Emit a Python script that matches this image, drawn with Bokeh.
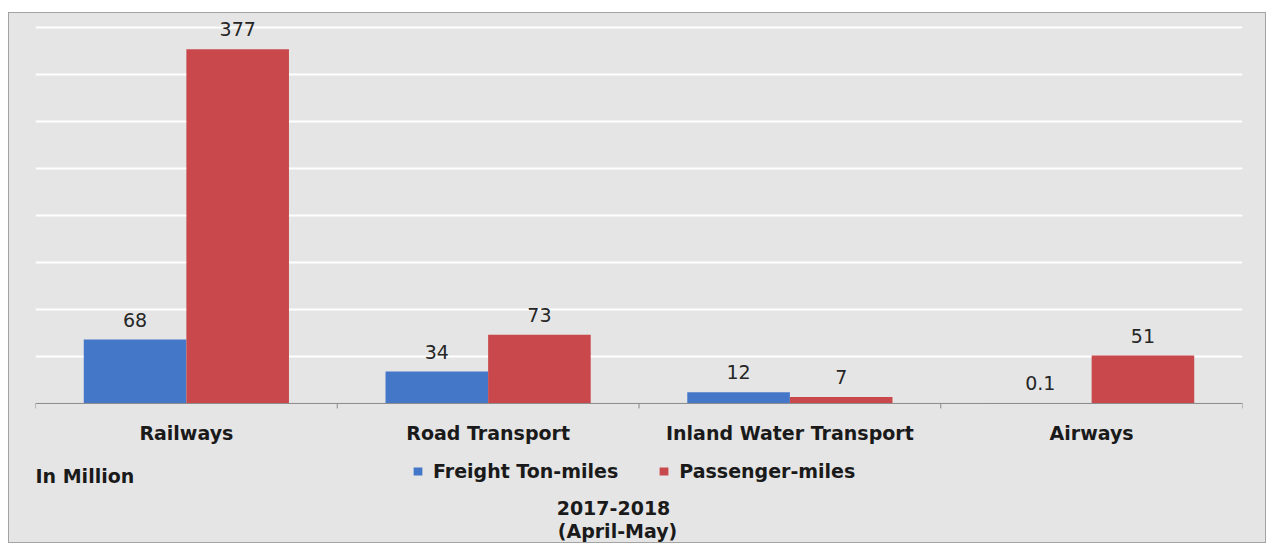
from math import pi
from bokeh.plotting import figure
from bokeh.models import (Range1d, FixedTicker, Grid, Legend, LegendItem, Label,
                          ColumnDataSource, Span)
from bokeh.transform import dodge
from bokeh.core.properties import value
from bokeh.embed import file_html
from bokeh.resources import INLINE

# ---- data ----
categories = ["Railways", "Road Transport", "Inland Water Transport", "Airways"]
freight = [68, 34, 12, 0.1]
passenger = [377, 73, 7, 51]
series_names = ["Freight Ton-miles", "Passenger-miles"]
grid_values = [50, 100, 150, 200, 250, 300, 350, 400]
unit_label = "In Million"
period_labels = ["2017-2018", "(April-May)"]

BLUE = "#4577c8"
RED = "#c9484b"
BG = "#e5e5e5"
AXIS = "#8a8a8a"
TXT = "#1a1a1a"
FONT = "DejaVu Sans"

n = len(categories)
centers = [i + 0.5 for i in range(n)]
boundaries = list(range(n + 1))

src = ColumnDataSource(dict(
    cat=categories,
    xc=centers,
    freight=freight,
    passenger=passenger,
    freight_txt=[f"{v:g}" for v in freight],
    passenger_txt=[f"{v:g}" for v in passenger],
))

p = figure(x_range=Range1d(0, n), y_range=Range1d(-149, 416),
           width=1258, height=531, output_backend="svg", toolbar_location=None,
           x_axis_type=None, y_axis_type=None,
           min_border_left=27, min_border_right=24, min_border_top=0, min_border_bottom=0,
           background_fill_color=BG, background_fill_alpha=0,
           border_fill_color=BG, border_fill_alpha=0, outline_line_color=None)
p.margin = (12, 0, 0, 8)
p.styles = {"background-color": BG,
            "outline": "1px solid #a3a3a3", "outline-offset": "-1px"}

# horizontal gridlines
p.add_layout(Grid(dimension=1, ticker=FixedTicker(ticks=grid_values),
                  grid_line_color="white", grid_line_width=2))

# baseline (category axis line) and tick marks at category boundaries
p.add_layout(Span(location=0, dimension="width", line_color=AXIS, line_width=1))
p.ray(x=boundaries, y=[0] * len(boundaries), length=5, length_units="screen",
      angle=-pi / 2, line_color=AXIS, line_width=1)

# bars
r1 = p.vbar(x=dodge("xc", -0.17), top="freight", width=0.34,
            source=src, fill_color=BLUE, line_color=None)
r2 = p.vbar(x=dodge("xc", 0.17), top="passenger", width=0.34,
            source=src, fill_color=RED, line_color=None)

# value labels
common = dict(source=src, text_align="center", text_baseline="alphabetic", y_offset=-20,
              text_font=value(FONT), text_font_size="19px", text_color="#262626")
p.text(x=dodge("xc", -0.17), y="freight", text="freight_txt", **common)
p.text(x=dodge("xc", 0.17), y="passenger", text="passenger_txt", **common)

# category labels
p.text(x="xc", y=0, text="cat", source=src, y_offset=30, text_align="center",
       text_baseline="middle", text_font=value(FONT), text_font_style="bold",
       text_font_size="19px", text_color=TXT)

# legend
legend = Legend(items=[LegendItem(label=series_names[0], renderers=[r1]),
                       LegendItem(label=series_names[1], renderers=[r2])],
                orientation="horizontal", location=(377, 61),
                glyph_width=11, glyph_height=10, label_standoff=10, spacing=40,
                padding=0, margin=0, border_line_color=None, background_fill_alpha=0,
                label_text_font=FONT, label_text_font_style="bold",
                label_text_font_size="19px", label_text_color=TXT)
p.add_layout(legend)

lab_kw = dict(x_units="screen", y_units="screen", text_font=FONT, text_font_style="bold",
              text_font_size="19px", text_color=TXT, text_baseline="middle")
p.add_layout(Label(x=0, y=68, text=unit_label, text_align="left", **lab_kw))
p.add_layout(Label(x=578, y=36, text=period_labels[0], text_align="center", **lab_kw))
p.add_layout(Label(x=582, y=13, text=period_labels[1], text_align="center", **lab_kw))

open("out.html", "w").write(file_html(p, INLINE))
